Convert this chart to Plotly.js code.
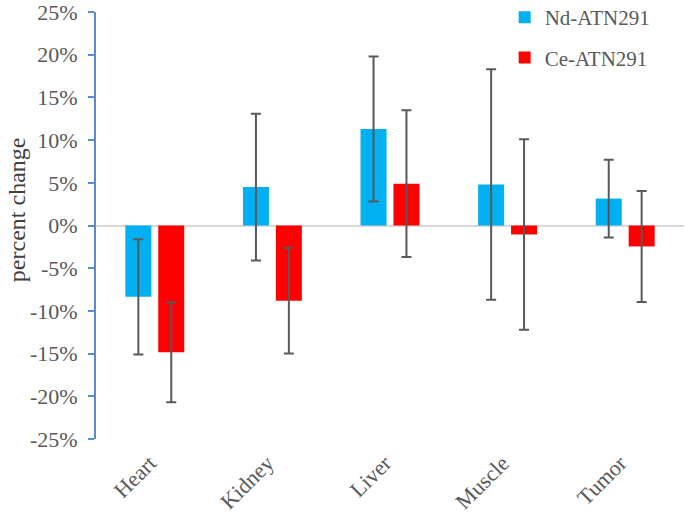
<!DOCTYPE html>
<html>
<head>
<meta charset="utf-8">
<script src="https://cdn.plot.ly/plotly-3.0.1.min.js"></script>
<style>
  html, body { margin: 0; padding: 0; background: #fff; }
  #chart { width: 685px; height: 517px; }
</style>
</head>
<body>
<div id="chart"></div>
<script>
// organs on the x axis
var organs = ['Heart', 'Kidney', 'Liver', 'Muscle', 'Tumor'];

// percent change and error (+/-) per probe
var ndValues = [-8.35, 4.5, 11.3, 4.8, 3.15];
var ndErrors = [6.75, 8.6, 8.5, 13.5, 4.55];
var ceValues = [-14.85, -8.8, 4.9, -1.05, -2.45];
var ceErrors = [5.85, 6.2, 8.6, 11.15, 6.5];

// y axis ticks
var yTicks = [-25, -20, -15, -10, -5, 0, 5, 10, 15, 20, 25];
var yTickText = ['-25%', '-20%', '-15%', '-10%', '-5%', '0%', '5%', '10%', '15%', '20%', '25%'];

var serif = 'Liberation Serif';

var traceNd = {
    type: 'bar',
    name: 'Nd-ATN291',
    legendgroup: 'nd',
    x: organs,
    y: ndValues,
    marker: { color: '#00B0F0' },
    error_y: { type: 'data', array: ndErrors, visible: true, color: '#595959', thickness: 2, width: 5 }
};

var traceCe = {
    type: 'bar',
    name: 'Ce-ATN291',
    legendgroup: 'ce',
    x: organs,
    y: ceValues,
    marker: { color: '#FF0000' },
    error_y: { type: 'data', array: ceErrors, visible: true, color: '#595959', thickness: 2, width: 5 }
};

var layout = {
    width: 685,
    height: 517,
    margin: { l: 96, r: 1, t: 12, b: 78, autoexpand: false },
    paper_bgcolor: '#ffffff',
    plot_bgcolor: '#ffffff',
    barmode: 'group',
    bargap: 0.44,
    bargroupgap: 0.21,
    showlegend: true,
    legend: {
        x: 0.695, xanchor: 'left',
        y: 1.035, yanchor: 'top',
        font: { family: serif, size: 21, color: '#595959' },
        traceorder: 'grouped',
        tracegroupgap: 10,
        bgcolor: 'rgba(0,0,0,0)'
    },
    xaxis: {
        type: 'category',
        showline: false,
        showgrid: false,
        ticks: '',
        tickangle: -45,
        ticklabelstandoff: 6,
        ticklabelshift: -5,
        tickfont: { family: serif, size: 22, color: '#595959' },
        automargin: false
    },
    yaxis: {
        range: [-25, 25],
        tickvals: yTicks,
        ticktext: yTickText,
        showgrid: false,
        showline: true,
        linecolor: '#5B8BD0',
        linewidth: 2,
        ticks: 'outside',
        ticklen: 6,
        tickwidth: 2,
        tickcolor: '#5B8BD0',
        ticklabelstandoff: 6,
        ticklabeloverflow: 'allow',
        zeroline: true,
        zerolinecolor: '#D9D9D9',
        zerolinewidth: 2,
        tickfont: { family: serif, size: 22, color: '#595959' },
        automargin: false
    },
    // y axis title, placed a bit above the middle like the original
    annotations: [{
        text: 'percent change',
        xref: 'paper', yref: 'paper',
        x: 0, y: 0.536,
        xanchor: 'center', yanchor: 'middle',
        xshift: -79,
        textangle: -90,
        showarrow: false,
        font: { family: serif, size: 24, color: '#404040' }
    }]
};

Plotly.newPlot('chart', [traceNd, traceCe], layout, { displayModeBar: false });
</script>
</body>
</html>
